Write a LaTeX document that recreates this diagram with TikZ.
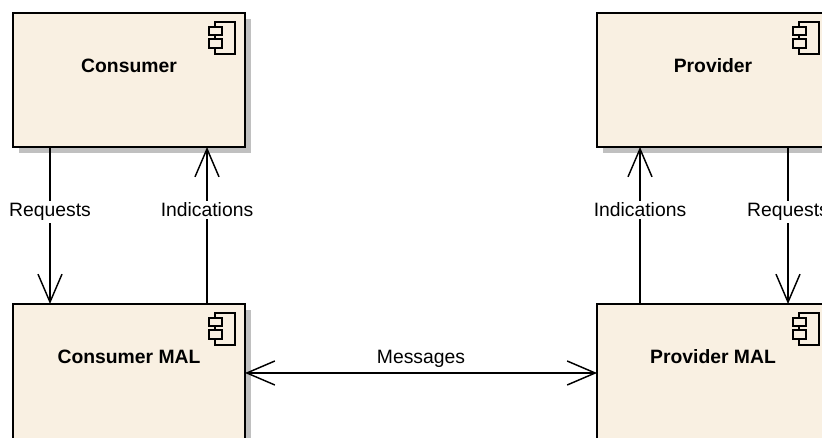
\documentclass[tikz,border=0pt]{standalone}
\usepackage{fontspec}
\setmainfont{Liberation Sans}
\usetikzlibrary{calc, arrows.meta, shadows}

\definecolor{componentFill}{RGB}{249,240,226}
\definecolor{shadowGray}{RGB}{192,192,192}

\tikzset{
	component/.style={draw, rectangle, line width=1.5pt, fill=componentFill, inner sep=0pt, outer sep=0pt,
		minimum width=174pt, drop shadow={shadow xshift=4.5pt, shadow yshift=-4.5pt, fill=shadowGray, opacity=1}},
	title/.style={font=\fontsize{14.5}{17}\selectfont\bfseries, inner sep=0pt},
	openTip/.tip={Straight Barb[length=21pt, width=18pt]},
	link/.style={line width=1.1pt},
	linkLabel/.style={fill=white, inner sep=1.5pt, font=\fontsize{14.5}{17}\selectfont}
}

\begin{document}
\begin{tikzpicture}[x=0.75pt, y=0.75pt]
		
		\useasboundingbox (0,0) rectangle (822,-438);
		\clip (0,0) rectangle (822,-438);
		
		%Components of the upper part
		\node (consumer) at (129,-80) [component, minimum height=100.5pt]{};
		\node (provider) at (713,-80) [component, minimum height=100.5pt]{};
		
		%Components of the lower part
		\node (consumerMAL) at (129,-373) [component, minimum height=103.5pt]{};
		\node (providerMAL) at (713,-373) [component, minimum height=103.5pt]{};
		
		%Titles
		\node (consumerTitle) at ($(consumer.north)+(0,-53)$) [title]{Consumer};
		\node (providerTitle) at ($(provider.north)+(0,-53)$) [title]{Provider};
		\node (consumerMALTitle) at ($(consumerMAL.north)+(0,-53)$) [title]{Consumer MAL};
		\node (providerMALTitle) at ($(providerMAL.north)+(0,-53)$) [title]{Provider MAL};
		
		%Component icons
		\foreach \comp in {consumer, provider, consumerMAL, providerMAL}{
			\draw[line width=1pt] ($(\comp.north east)+(-30,-9)$) rectangle ($(\comp.north east)+(-10,-41)$);
			\draw[line width=1pt, fill=componentFill] ($(\comp.north east)+(-36,-14)$) rectangle ($(\comp.north east)+(-23,-22)$);
			\draw[line width=1pt, fill=componentFill] ($(\comp.north east)+(-36,-26)$) rectangle ($(\comp.north east)+(-23,-35)$);
		}
		
		%Links on the consumer side
		\draw[link, -{openTip}] ($(consumer.south west)+(37,0)$) -- ($(consumerMAL.north west)+(37,0)$)
		node[linkLabel, pos=0.414]{Requests};
		
		\draw[link, -{openTip}] ($(consumerMAL.north west)+(194,0)$) -- ($(consumer.south west)+(194,0)$)
		node[linkLabel, pos=0.6]{Indications};
		
		%Links on the provider side
		\draw[link, -{openTip}] ($(providerMAL.north west)+(43,0)$) -- ($(provider.south west)+(43,0)$)
		node[linkLabel, pos=0.6]{Indications};
		
		\draw[link, -{openTip}] ($(provider.south west)+(191,0)$) -- ($(providerMAL.north west)+(191,0)$)
		node[linkLabel, pos=0.414]{Requests};
		
		%Link between the two MALs
		\draw[link, {openTip}-{openTip}] (consumerMAL.east) -- (providerMAL.west)
		node[midway, above, font=\fontsize{14.5}{17}\selectfont]{Messages};
		
\end{tikzpicture}
\end{document}
